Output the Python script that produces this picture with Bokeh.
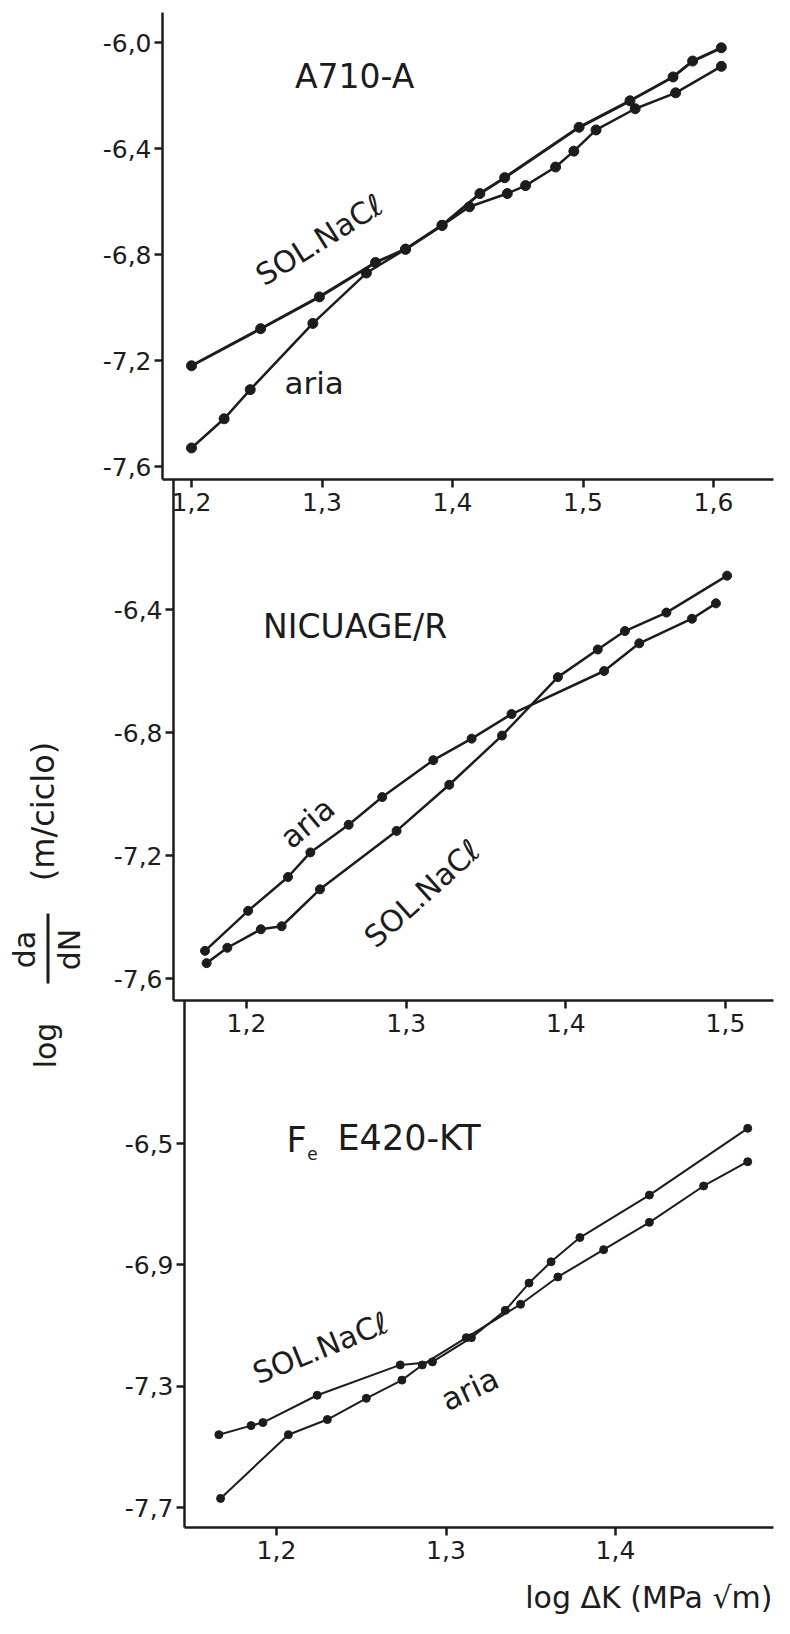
import math
from bokeh.plotting import figure
from bokeh.models import (Range1d, LinearAxis, FixedTicker, Label, BoxAnnotation,
                          CustomJSTickFormatter, Grid)
from bokeh.embed import file_html
from bokeh.resources import INLINE

# ---------------- data ----------------
# Panel 1 : A710-A
a710_nacl_x = [1.200, 1.253, 1.298, 1.341, 1.364, 1.392, 1.421, 1.440, 1.497, 1.536, 1.569, 1.584, 1.606]
a710_nacl_y = [-7.22, -7.08, -6.96, -6.83, -6.78, -6.69, -6.57, -6.51, -6.32, -6.22, -6.13, -6.07, -6.02]
a710_aria_x = [1.200, 1.225, 1.245, 1.293, 1.334, 1.364, 1.392, 1.413, 1.442, 1.456, 1.479, 1.493,
               1.510, 1.540, 1.571, 1.606]
a710_aria_y = [-7.53, -7.42, -7.31, -7.06, -6.87, -6.78, -6.69, -6.62, -6.57, -6.54, -6.47, -6.41,
               -6.33, -6.25, -6.19, -6.09]

# Panel 2 : NICUAGE/R
nic_aria_x = [1.174, 1.201, 1.226, 1.240, 1.264, 1.285, 1.317, 1.341, 1.366, 1.424, 1.446, 1.479, 1.494]
nic_aria_y = [-7.51, -7.38, -7.27, -7.19, -7.10, -7.01, -6.89, -6.82, -6.74, -6.60, -6.51, -6.43, -6.38]
nic_nacl_x = [1.175, 1.188, 1.209, 1.222, 1.246, 1.294, 1.327, 1.360, 1.395, 1.420, 1.437, 1.463, 1.501]
nic_nacl_y = [-7.55, -7.50, -7.44, -7.43, -7.31, -7.12, -6.97, -6.81, -6.62, -6.53, -6.47, -6.41, -6.29]

# Panel 3 : Fe E420-KT
fe_nacl_x = [1.166, 1.185, 1.192, 1.224, 1.273, 1.292, 1.315, 1.335, 1.349, 1.362, 1.379, 1.420, 1.478]
fe_nacl_y = [-7.46, -7.43, -7.42, -7.33, -7.23, -7.22, -7.14, -7.05, -6.96, -6.89, -6.81, -6.67, -6.45]
fe_aria_x = [1.167, 1.207, 1.230, 1.253, 1.274, 1.286, 1.312, 1.344, 1.366, 1.393, 1.420, 1.452, 1.478]
fe_aria_y = [-7.67, -7.46, -7.41, -7.34, -7.28, -7.23, -7.14, -7.03, -6.94, -6.85, -6.76, -6.64, -6.56]

p1_xticks = [1.2, 1.3, 1.4, 1.5, 1.6]
p1_yticks = [-6.0, -6.4, -6.8, -7.2, -7.6]
p2_xticks = [1.2, 1.3, 1.4, 1.5]
p2_yticks = [-6.4, -6.8, -7.2, -7.6]
p3_xticks = [1.2, 1.3, 1.4]
p3_yticks = [-6.5, -6.9, -7.3, -7.7]

# ---------------- layout ----------------
W, H = 774, 1618
OFF = 0


class PanelMap:
    """maps page pixel positions to data values for one panel"""
    def __init__(self, vx0, X0, vx1, X1, vy0, Y0, vy1, Y1):
        self.vx0, self.X0, self.kx = vx0, X0, (X1 - X0) / (vx1 - vx0)
        self.vy0, self.Y0, self.ky = vy0, Y0, (Y1 - Y0) / (vy1 - vy0)

    def vx(self, X):
        return self.vx0 + (X - self.X0) / self.kx

    def vy(self, Y):
        return self.vy0 + (Y - self.Y0) / self.ky

    def xrange(self):
        return Range1d(self.vx(OFF), self.vx(OFF + W))

    def yrange(self):
        return Range1d(self.vy(OFF + H), self.vy(OFF))


m1 = PanelMap(1.2, 191, 1.6, 713, -6.0, 42, -7.6, 466)
m2 = PanelMap(1.2, 246, 1.5, 725, -6.8, 732, -7.6, 978)
m3 = PanelMap(1.2, 276, 1.4, 615, -6.5, 1143, -7.7, 1507)

p = figure(width=W, height=H, x_range=Range1d(0, W), y_range=Range1d(H, 0),
           output_backend="svg", toolbar_location=None, title=None,
           x_axis_location=None, y_axis_location=None, min_border=0)
p.outline_line_color = None
p.background_fill_color = "white"
p.border_fill_color = "white"
for g in p.select(type=Grid):
    g.visible = False

p.extra_x_ranges = {"x1": m1.xrange(), "x2": m2.xrange(), "x3": m3.xrange()}
p.extra_y_ranges = {"y1": m1.yrange(), "y2": m2.yrange(), "y3": m3.yrange()}

fmt = CustomJSTickFormatter(code="return tick.toFixed(1).replace('.', ',')")
FONT = "DejaVu Sans"
INK = "#1c1c1c"


def style_axis(ax, xdir):
    ax.axis_line_width = 2.5
    ax.axis_line_color = INK
    ax.major_tick_line_width = 2.5
    ax.major_tick_line_color = INK
    ax.minor_tick_line_color = None
    ax.major_tick_in = 0
    ax.major_tick_out = 8
    ax.major_label_standoff = 5 if xdir else 3
    ax.major_label_text_font = FONT
    ax.major_label_text_font_size = "25px"
    ax.major_label_text_color = INK


def add_axes(m, xn, yn, xticks, yticks, yaxisX, topY, xaxisY, rightX):
    xa = LinearAxis(x_range_name=xn, y_range_name=yn, fixed_location=m.vy(xaxisY),
                    bounds=(m.vx(yaxisX), m.vx(rightX)), ticker=FixedTicker(ticks=xticks),
                    formatter=fmt)
    style_axis(xa, True)
    p.add_layout(xa, "below")
    ya = LinearAxis(x_range_name=xn, y_range_name=yn, fixed_location=m.vx(yaxisX),
                    bounds=(m.vy(xaxisY), m.vy(topY)), ticker=FixedTicker(ticks=yticks),
                    formatter=fmt)
    style_axis(ya, False)
    p.add_layout(ya, "left")


add_axes(m1, "x1", "y1", p1_xticks, p1_yticks, 162, 12, 479, 773)
add_axes(m2, "x2", "y2", p2_xticks, p2_yticks, 173, 479, 1000, 773)
add_axes(m3, "x3", "y3", p3_xticks, p3_yticks, 184, 1000, 1527, 773)


def series(xs, ys, xn, yn, lw, size):
    p.line(xs, ys, x_range_name=xn, y_range_name=yn, line_color=INK, line_width=lw)
    p.scatter(xs, ys, x_range_name=xn, y_range_name=yn, size=size, fill_color=INK,
              line_color=INK)


series(a710_nacl_x, a710_nacl_y, "x1", "y1", 3, 10)
series(a710_aria_x, a710_aria_y, "x1", "y1", 2.5, 10)
series(nic_aria_x, nic_aria_y, "x2", "y2", 2.5, 9)
series(nic_nacl_x, nic_nacl_y, "x2", "y2", 2.5, 9)
series(fe_nacl_x, fe_nacl_y, "x3", "y3", 2, 8)
series(fe_aria_x, fe_aria_y, "x3", "y3", 2, 8)


def txt(x, y, t, xn=None, yn=None, size="30px", angle=0.0, align="center"):
    kw = {}
    if xn:
        kw["x_range_name"] = xn
        kw["y_range_name"] = yn
    p.add_layout(Label(x=x, y=y, text=t, text_font=FONT, text_font_size=size,
                       text_color=INK, text_align=align, text_baseline="middle",
                       angle=angle, **kw))


# panel texts
txt(1.325, -6.13, "A710-A", "x1", "y1", "33px")
txt(1.298, -6.745, "SOL.NaCℓ", "x1", "y1", "30px", math.radians(32))
txt(1.294, -7.285, "aria", "x1", "y1", "31px")

txt(1.268, -6.456, "NICUAGE/R", "x2", "y2", "33px")
txt(1.238, -7.093, "aria", "x2", "y2", "31px", math.radians(40))
txt(1.310, -7.324, "SOL.NaCℓ", "x2", "y2", "30px", math.radians(42))

txt(m3.vx(296), m3.vy(1139), "F", "x3", "y3", "35px")
txt(m3.vx(312), m3.vy(1153), "e", "x3", "y3", "17px")
txt(m3.vx(337), m3.vy(1137), "E420-KT", "x3", "y3", "35px", align="left")
txt(1.226, -7.174, "SOL.NaCℓ", "x3", "y3", "30px", math.radians(22))
txt(1.314, -7.309, "aria", "x3", "y3", "31px", math.radians(25))

# y axis title (page coordinates)
txt(45 - OFF, 1045 - OFF, "log", size="30px", angle=math.pi / 2)
txt(24 - OFF, 949 - OFF, "da", size="30px", angle=math.pi / 2)
txt(69 - OFF, 949 - OFF, "dN", size="30px", angle=math.pi / 2)
p.add_layout(BoxAnnotation(left=46 - OFF, right=49 - OFF, top=913 - OFF, bottom=983 - OFF,
                           fill_color=INK, fill_alpha=1.0, line_color=None))
txt(42 - OFF, 811 - OFF, "(m/ciclo)", size="32px", angle=math.pi / 2)

# x axis title
txt(W - 2, 1597 - OFF, "log ΔK (MPa √m)", size="30px", align="right")

open("out.html", "w").write(file_html(p, INLINE))
